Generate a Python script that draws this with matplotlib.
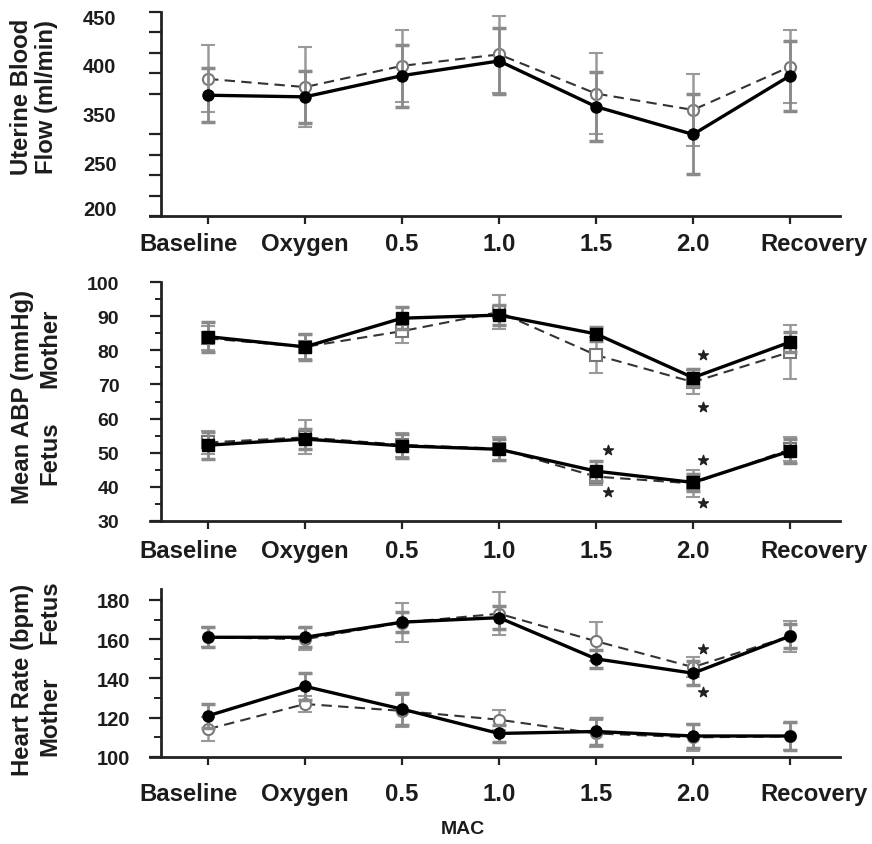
import numpy as np
import matplotlib.pyplot as plt
import matplotlib.transforms as mtransforms

plt.rcParams['font.family'] = ['Liberation Sans', 'DejaVu Sans']
plt.rcParams['font.weight'] = 'bold'

cats = ['Baseline', 'Oxygen', '0.5', '1.0', '1.5', '2.0', 'Recovery']

# uterine blood flow (ml/min)
ubf_solid = [348, 346, 372, 390, 334, 300, 372]
ubf_solid_err = [33, 32, 38, 40, 42, 49, 43]
ubf_open = [368, 358, 384, 398, 350, 330, 383]
ubf_open_err = [41, 49, 44, 47, 50, 44, 45]
# the printed labels on this axis sit off their ticks
ubf_label_pos = [445, 386, 325, 266, 211]
ubf_labels = ['450', '400', '350', '250', '200']

# mean ABP (mmHg), mother
abp_m_solid = [84, 81, 89.4, 90.3, 84.8, 72, 82.4]
abp_m_solid_err = [4.4, 3.7, 3.2, 3, 2, 2.5, 3]
abp_m_open = [83.5, 81, 85.6, 91.2, 78.6, 70.7, 79.5]
abp_m_open_err = [3.5, 3.5, 3.5, 5, 5.3, 3.5, 8]
# mean ABP (mmHg), fetus
abp_f_solid = [52.2, 54, 52, 51, 44.6, 41.3, 50.5]
abp_f_solid_err = [4, 3, 3.5, 3, 3, 2.5, 3.5]
abp_f_open = [53, 54.5, 52.3, 51.2, 43, 41, 51]
abp_f_open_err = [3.5, 5, 3.5, 3.5, 2.5, 4, 3.5]
abp_star_x = [4.12, 4.12, 5.1, 5.1, 5.1, 5.1]
abp_star_y = [50.7, 38.4, 78.6, 63.3, 47.8, 35.2]

# heart rate (bpm), fetus
hr_f_solid = [161, 161, 168.7, 171, 150, 142.7, 161.6]
hr_f_solid_err = [5, 5, 5, 6, 4.5, 6, 6]
hr_f_open = [161, 160, 168.5, 173, 159, 145.8, 161.5]
hr_f_open_err = [5, 5.5, 10, 11, 10, 5, 8]
# heart rate (bpm), mother
hr_m_solid = [121, 136, 124.4, 112, 113, 110.7, 110.7]
hr_m_solid_err = [6, 7, 8, 4.5, 7, 6, 7]
hr_m_open = [114.2, 127, 123.5, 119, 112, 110, 110.5]
hr_m_open_err = [6, 4, 8, 5, 7, 7, 7]
hr_star_x = [5.1, 5.1]
hr_star_y = [155, 133]

W, H = 872, 845
TXT = '#1c1c1c'
FS = 17.2


def serie(ax, y, yerr, lleno, marker='o'):
    x = np.arange(len(y))
    if lleno:
        l, caps, bars = ax.errorbar(x, y, yerr=yerr, fmt='-', marker=marker, color='black', lw=2.4,
                                    ms=8, mfc='black', mec='black', ecolor='#8a8a8a', elinewidth=2,
                                    capsize=5, capthick=2.5, zorder=4)
        for c in caps:
            c.set_color('#222222')
    else:
        l, caps, bars = ax.errorbar(x, y, yerr=yerr, fmt='--', marker=marker, color='#333333', lw=1.5,
                                    ms=8, mfc='white', mec='#777777', mew=1.5, ecolor='#9a9a9a',
                                    elinewidth=1.8, capsize=5, capthick=1.5, zorder=3)
        l.set_dashes((5, 3))
        for c in caps:
            c.set_color('#aaaaaa')


def panel(top, bottom, ylim, xpad):
    ax = fig.add_axes([150 / W, 1 - bottom / H, 690 / W, (bottom - top) / H])
    ax.set_xlim(-0.598, 6.515)
    ax.set_ylim(*ylim)
    for s in ['top', 'right']:
        ax.spines[s].set_visible(False)
    ax.spines['left'].set_position(('data', -0.485))
    for s in ['left', 'bottom']:
        ax.spines[s].set_linewidth(2)
        ax.spines[s].set_color('#222222')
    ax.set_xticks(range(len(cats)))
    ax.set_xticklabels(cats, fontsize=FS, fontweight='bold', color=TXT)
    ax.tick_params(axis='x', length=6, width=1.6, pad=xpad, color='#222222')
    # the end labels are pushed outward in the original
    labs = ax.get_xticklabels()
    for lab, dx in [(labs[0], -19), (labs[-1], 24)]:
        lab.set_transform(lab.get_transform() + mtransforms.ScaledTranslation(dx / 100, 0, fig.dpi_scale_trans))
    return ax


def ylab(x, y, s):
    fig.text(x / W, 1 - y / H, s, rotation=90, ha='center', va='center',
             fontsize=FS, fontweight='bold', color=TXT)


fig = plt.figure(figsize=(W / 100, H / 100), dpi=100)

# ---- uterine blood flow
ax1 = panel(13, 217, (200, 450), 5.5)
serie(ax1, ubf_open, ubf_open_err, False)
serie(ax1, ubf_solid, ubf_solid_err, True)
ax1.set_yticks(np.arange(200, 451, 25), minor=True)
ax1.set_yticks(ubf_label_pos)
ax1.set_yticklabels(ubf_labels, fontsize=14.5, fontweight='bold', color=TXT)
ax1.tick_params(axis='y', which='major', length=0, pad=32)
ax1.tick_params(axis='y', which='minor', length=8.5, width=1.6, color='#222222')
ylab(21, 97, 'Uterine Blood')
ylab(47, 97, 'Flow (ml/min)')

# ---- mean ABP
ax2 = panel(283, 522, (30, 100), 7)
serie(ax2, abp_m_open, abp_m_open_err, False, 's')
serie(ax2, abp_m_solid, abp_m_solid_err, True, 's')
serie(ax2, abp_f_open, abp_f_open_err, False, 's')
serie(ax2, abp_f_solid, abp_f_solid_err, True, 's')
ax2.scatter(abp_star_x, abp_star_y, marker='*', s=55, color='#222222', zorder=5)
ax2.set_yticks(np.arange(30, 101, 10))
ax2.set_yticks(np.arange(30, 101, 5), minor=True)
ax2.tick_params(axis='y', which='major', length=8, width=1.6, pad=22, labelsize=14, color='#222222',
                labelcolor=TXT)
ax2.tick_params(axis='y', which='minor', length=4.5, width=1.4, color='#222222')
ylab(23, 397, 'Mean ABP (mmHg)')
ylab(50, 348, 'Mother')
ylab(50, 453, 'Fetus')

# ---- heart rate
ax3 = panel(590, 758, (100, 185.6), 12)
serie(ax3, hr_f_open, hr_f_open_err, False)
serie(ax3, hr_f_solid, hr_f_solid_err, True)
serie(ax3, hr_m_open, hr_m_open_err, False)
serie(ax3, hr_m_solid, hr_m_solid_err, True)
ax3.scatter(hr_star_x, hr_star_y, marker='*', s=55, color='#222222', zorder=5)
ax3.set_yticks(np.arange(100, 181, 20))
ax3.set_yticks(np.arange(100, 181, 10), minor=True)
ax3.tick_params(axis='y', which='major', length=9, width=1.6, pad=13, labelsize=14.5, color='#222222',
                labelcolor=TXT)
ax3.tick_params(axis='y', which='minor', length=5, width=1.4, color='#222222')
ylab(22, 680, 'Heart Rate (bpm)')
ylab(50, 612, 'Fetus')
ylab(50, 716, 'Mother')
fig.text(463 / W, 1 - 830 / H, 'MAC', ha='center', va='center', fontsize=14, fontweight='bold', color=TXT)

fig.savefig('out.png', dpi=100)
